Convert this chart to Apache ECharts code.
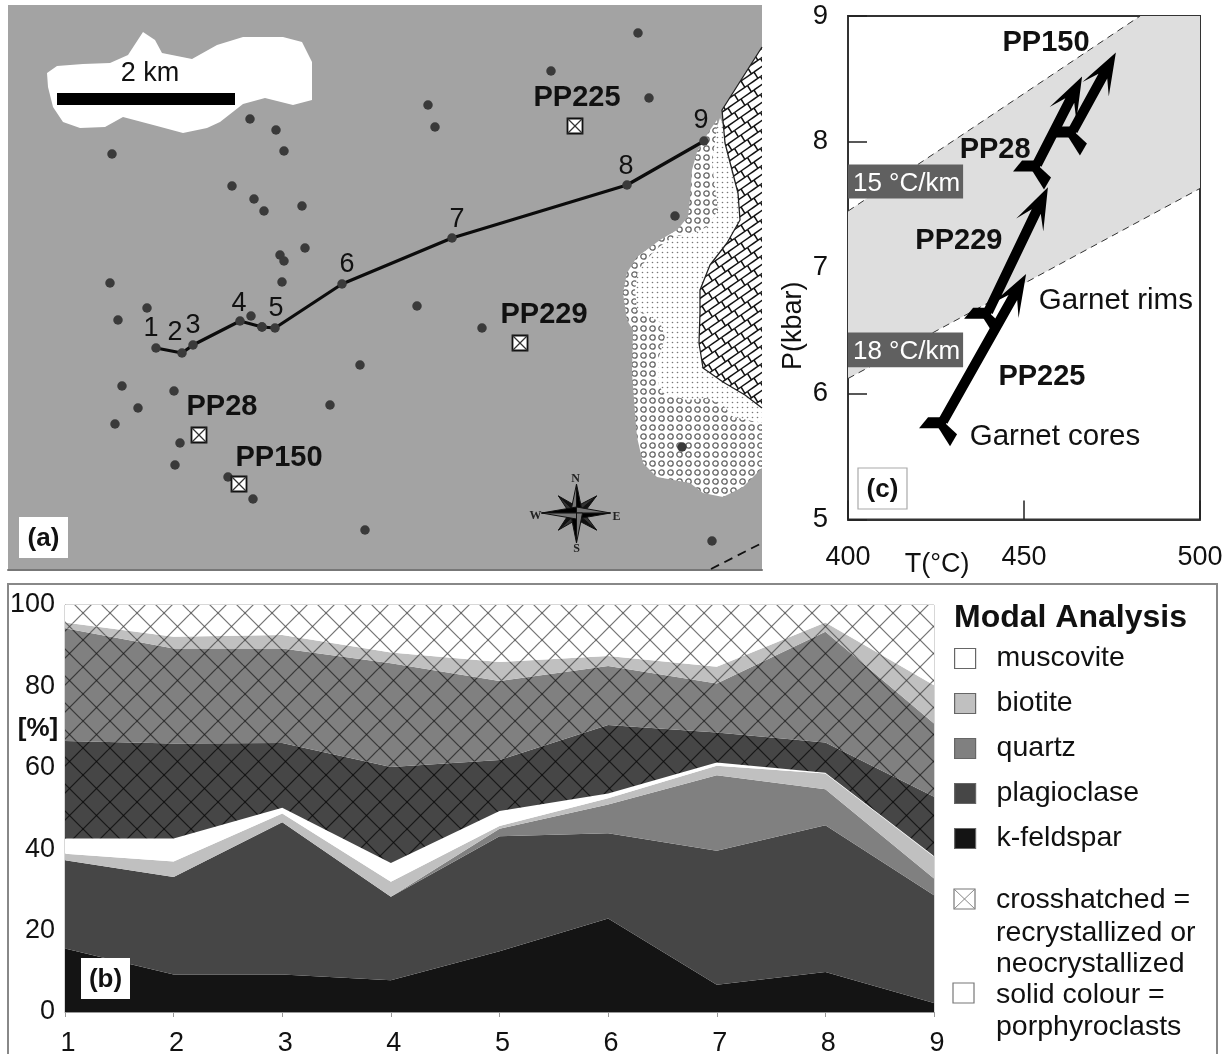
<!DOCTYPE html>
<html><head><meta charset="utf-8">
<style>html,body{margin:0;padding:0;background:#fff}#c{width:1226px;height:1054px}</style>
<script src="https://cdn.jsdelivr.net/npm/echarts@6/dist/echarts.min.js"></script>
</head><body><div id="c"></div>
<script>
// ---------- panel (b): modal analysis (%), stacked thickness at sections 1-9
const sections = ['1','2','3','4','5','6','7','8','9'];
const kFeldspar  = [15.6,9.2,9.2,7.8,14.9,23,6.7,9.8,2.2];
const plagSolid  = [21.7,24,37.4,20.5,28.3,20.9,32.9,36.1,26.5];
const quartzSolid= [0,0,0,0,1.8,7.1,18.6,8.8,4.1];
const biotSolid  = [1.6,3.8,2.2,3.7,0.7,1.5,2.3,3.9,5.3];
const muscSolid  = [3.7,5.6,1.4,4.6,3.7,1.2,0.8,0.2,0.2];
const plagRecr   = [24,23.4,15.9,23.6,12.5,16.8,7.4,7.4,14.6];
const quartzRecr = [27.7,23.3,23.2,25.5,19.4,14.5,12,27.2,18];
const biotRecr   = [1.4,2.9,3.3,2.6,4.7,2.5,4.1,2.3,9.4];
const muscRecr   = [4.3,7.8,7.4,11.7,14,12.5,15.2,4.3,19.7];
const percentTicks = [0,20,40,60,80,100];
const legendNames = ['muscovite','biotite','quartz','plagioclase','k-feldspar'];
const legendNotes = ['crosshatched =','recrystallized or','neocrystallized','solid colour =','porphyroclasts'];

// ---------- panel (a): map, in map units
const samplePoints = [[250,119],[276,130],[284,151],[112,154],[232,186],[254,199],[264,211],[302,206],[305,248],[280,255],[284,261],[282,282],[110,283],[147,308],[118,320],[262,327],[251,316],[360,365],[122,386],[174,391],[138,408],[330,405],[115,424],[180,443],[175,465],[228,477],[253,499],[365,530],[428,105],[435,127],[551,71],[638,33],[649,98],[417,306],[482,328],[675,216],[682,447],[712,541]];
const traversePoints = [[156,348],[182,353],[193,345],[240,321],[262,327],[275,328],[342,284],[452,238],[627,185],[704,141]];
const traverseLabels = ['1','2','3','4','5','6','7','8','9'];
const traverseLabelPos = [[151,327],[175,331],[193,324],[239,302],[276,307],[347,263],[457,218],[626,165],[701,119]];
const mapSamples = ['PP225','PP229','PP28','PP150'];
const mapSamplePos = [[575,126],[520,343],[199,435],[239,484]];
const mapSampleLabelPos = [[577,96],[544,313],[222,405],[279,456]];
const scaleBlob = [[47,73],[57,66],[83,64],[110,63],[128,55],[143,32],[155,40],[162,53],[192,59],[217,45],[243,37],[283,37],[302,42],[312,62],[312,100],[293,105],[265,98],[243,104],[220,122],[207,128],[183,133],[157,126],[123,117],[105,127],[80,128],[63,122],[53,107],[48,87]];
const scaleBar = [[57,93],[235,93],[235,105],[57,105]];
const circleUnit = [[717,120],[710,130],[697,152],[692,170],[690,200],[688,217],[677,230],[660,240],[637,257],[627,273],[623,293],[627,320],[633,330],[632,373],[635,413],[637,437],[643,463],[657,477],[690,483],[703,493],[723,497],[743,487],[762,468],[762,380],[725,200]];
const dotUnit = [[720,118],[717,127],[712,163],[715,187],[718,210],[707,227],[693,233],[673,237],[655,250],[638,270],[635,290],[637,310],[660,322],[665,337],[658,360],[658,383],[663,393],[687,400],[707,398],[723,405],[733,417],[762,423],[762,400],[745,385],[740,300],[745,215],[735,150]];
const scaleUnit = [[762,47],[722,110],[725,143],[732,170],[738,193],[740,220],[727,243],[710,265],[700,290],[700,313],[699,343],[703,368],[723,382],[745,395],[762,408]];
const faultLine = [[711,569],[762,543]];
const compassPos = [[576.5,513]];

// ---------- panel (c): P-T
const tempTicks = [400,450,500];
const pressTicks = [5,6,7,8,9];
const gradient15 = [[400,7.45],[483,9]];
const gradient18 = [[400,6.12],[500,7.63]];
const band = [[400,7.45],[483,9],[500,9],[500,7.63],[400,6.12]];
const arrowStarts = [[427,5.78],[439.8,6.65],[453.7,7.82],[463.9,8.09]];
const arrowTips = [[450.6,6.95],[456.8,7.64],[466.5,8.52],[476.1,8.71]];
const ptLabels = ['PP150','PP28','PP229','PP225','Garnet rims','Garnet cores','T(°C)','P(kbar)'];
const ptLabelPos = [[456.25,8.80],[441.8,7.95],[431.5,7.23],[455.1,6.15],[476.1,6.75],[458.8,5.67],[425.3,4.66],[384.4,6.54]];
const gradientTags = ['15 °C/km','18 °C/km'];
const gradientTagBoxes = [[400,7.82,432.7,7.55],[400,6.485,432.7,6.21]];

// ---------- helpers
const FF = '"Liberation Sans", Arial, sans-serif';
const INK = '#111';
function tile(w,h,draw){const c=document.createElement('canvas');c.width=w;c.height=h;const g=c.getContext('2d');draw(g,w,h);return c;}
function hatch(bg,ink){
  return {image:tile(27,27,(g,w,h)=>{
    g.fillStyle=bg;g.fillRect(0,0,w,h);g.strokeStyle=ink;g.lineWidth=1.15;
    for(let k=-3;k<=3;k++){
      g.beginPath();g.moveTo(0,17+k*27);g.lineTo(27,44+k*27);g.stroke();
      g.beginPath();g.moveTo(0,21+k*27);g.lineTo(27,-6+k*27);g.stroke();
    }
  }),repeat:'repeat'};
}
const dotsFill = {image:tile(5,5,(g)=>{g.fillStyle='#fff';g.fillRect(0,0,5,5);g.fillStyle='#777';g.beginPath();g.arc(2.5,2.5,.8,0,7);g.fill();}),repeat:'repeat'};
const ringsFill = {image:tile(9,9,(g)=>{g.fillStyle='#fff';g.fillRect(0,0,9,9);g.strokeStyle='#666';g.lineWidth=1.3;g.beginPath();g.arc(4.5,4.5,2.7,0,7);g.stroke();}),repeat:'repeat'};
const scalesFill = {image:tile(26,18,(g,w,h)=>{
  g.fillStyle='#fff';g.fillRect(0,0,w,h);g.strokeStyle='#111';g.lineWidth=1.5;
  for(let i=-4;i<=4;i++)for(let j=-4;j<=6;j++){
    const x=i*13+j*6.5,y=-i*9+j*4.5;
    g.beginPath();g.moveTo(x,y);g.lineTo(x+13,y-9);g.stroke();
    g.beginPath();g.moveTo(x,y);g.lineTo(x+3.9,y+6.3);g.stroke();
  }
}),repeat:'repeat'};

function polygonSeries(pts,fill,z,xi,yi){
  return {type:'custom',coordinateSystem:'cartesian2d',xAxisIndex:xi,yAxisIndex:yi,z,silent:true,
    data:pts,encode:{x:0,y:1},
    renderItem:(p,api)=>p.dataIndex===0?{type:'polygon',shape:{points:pts.map(q=>api.coord(q))},style:{fill}}:null};
}
function textSeries(texts,pos,styleOf,z,xi,yi){
  return {type:'custom',coordinateSystem:'cartesian2d',xAxisIndex:xi,yAxisIndex:yi,z,silent:true,
    data:pos,encode:{x:0,y:1},
    renderItem:(p,api)=>{const c=api.coord(pos[p.dataIndex]);const s=styleOf(p.dataIndex);
      return {type:'text',x:c[0],y:c[1]+(s.rotation?0:2),rotation:s.rotation||0,style:{text:texts[p.dataIndex],font:s.font,fill:s.fill||INK,align:'center',verticalAlign:'middle'}};}};
}
function stackSeries(name,data,color,fill,z){
  return {type:'line',name,data,stack:'modal',xAxisIndex:1,yAxisIndex:1,symbol:'none',silent:true,z,
    lineStyle:{width:0},itemStyle:{color},areaStyle:{color:fill||color,opacity:1}};
}
const C={k:'#141414',pl:'#464646',q:'#808080',b:'#c0c0c0',m:'#ffffff'};

function legendBox(x,y,fill,cross){
  const out=[{type:'rect',shape:{x,y,width:21,height:20},style:{fill,stroke:'#777',lineWidth:1.2},z:50}];
  if(cross){out.push({type:'polyline',shape:{points:[[x,y],[x+21,y+20]]},style:{stroke:'#888',lineWidth:1},z:51});
    out.push({type:'polyline',shape:{points:[[x+21,y],[x,y+20]]},style:{stroke:'#888',lineWidth:1},z:51});}
  return out;
}
function tag(x,y,w,h,text,border){
  return [{type:'rect',shape:{x,y,width:w,height:h},style:{fill:'#fff',stroke:border||null,lineWidth:border?1.2:0},z:60},
    {type:'text',x:x+w/2,y:y+h/2+1,style:{text,font:'bold 26px '+FF,fill:INK,align:'center',verticalAlign:'middle'},z:61}];
}
const noteY=[900,933,964,995,1027];

const option={
  animation:false,backgroundColor:'#fff',
  grid:[
    {left:8,top:5,width:754,height:565,outerBoundsMode:'none',show:true,backgroundColor:'#a3a3a3',borderWidth:0},
    {left:65,top:605,width:869,height:407,outerBoundsMode:'none',show:true,borderColor:'#b0b0b0',borderWidth:1,backgroundColor:'#fff'},
    {left:848,top:16,width:352,height:503.5,outerBoundsMode:'none',show:true,borderColor:'#333',borderWidth:2,backgroundColor:'#fff'}
  ],
  xAxis:[
    {gridIndex:0,type:'value',min:8,max:762,axisLabel:{show:false},axisTick:{show:false},splitLine:{show:false},axisLine:{onZero:false,lineStyle:{color:'#777',width:2}}},
    {gridIndex:1,type:'category',data:sections,boundaryGap:false,axisTick:{alignWithLabel:true,length:5,lineStyle:{color:'#999'}},
      axisLine:{lineStyle:{color:'#999'}},splitLine:{show:false},axisLabel:{color:INK,fontFamily:FF,fontSize:27,margin:18,padding:[0,0,0,6],showMaxLabel:true,showMinLabel:true,interval:0}},
    {gridIndex:2,type:'value',min:tempTicks[0],max:tempTicks[2],interval:50,splitLine:{show:false},axisTick:{inside:true,length:19,lineStyle:{color:'#222',width:1.5}},
      axisLine:{lineStyle:{color:'#333',width:2}},axisLabel:{color:INK,fontFamily:FF,fontSize:27,margin:25,showMaxLabel:true,showMinLabel:true}}
  ],
  yAxis:[
    {gridIndex:0,type:'value',min:5,max:570,inverse:true,show:false,splitLine:{show:false}},
    {gridIndex:1,type:'value',min:percentTicks[0],max:percentTicks[5],interval:20,splitLine:{show:false},axisTick:{length:7,lineStyle:{color:'#999'}},
      axisLine:{show:true,lineStyle:{color:'#999'}},axisLabel:{color:INK,fontFamily:FF,fontSize:27,margin:10,padding:[8,0,0,0],showMaxLabel:true,showMinLabel:true}},
    {gridIndex:2,type:'value',min:pressTicks[0],max:pressTicks[4],interval:1,splitLine:{show:false},axisTick:{inside:true,length:19,lineStyle:{color:'#222',width:1.5}},
      axisLine:{show:true,lineStyle:{color:'#333',width:2}},axisLabel:{color:INK,fontFamily:FF,fontSize:27.5,margin:20,padding:[7,0,0,0],showMaxLabel:true,showMinLabel:true}}
  ],
  legend:{left:954,top:644,padding:0,orient:'vertical',itemWidth:21,itemHeight:20,itemGap:16,selectedMode:false,
    textStyle:{color:INK,fontFamily:FF,fontSize:28.5,padding:[0,0,0,16]},
    data:legendNames.map((n,i)=>({name:n,icon:'rect',itemStyle:{color:[C.m,C.b,C.q,C.pl,C.k][i],borderColor:'#666',borderWidth:1.2}}))},
  graphic:{elements:[
    {type:'polyline',shape:{points:[[8,1060],[8,584],[1217,584],[1217,1060]]},style:{stroke:'#888',lineWidth:2,fill:null},z:40},
    {type:'text',x:954,y:618,style:{text:'Modal Analysis',font:'bold 32px '+FF,fill:INK,verticalAlign:'middle'},z:50},
    {type:'text',x:38,y:729,style:{text:'[%]',font:'bold 26px '+FF,fill:INK,align:'center',verticalAlign:'middle'},z:50},
    ...legendBox(954,889,'#fff',true),...legendBox(953,983,'#fff',false),
    ...legendNotes.map((t,i)=>({type:'text',x:996,y:noteY[i],style:{text:t,font:'28.5px '+FF,fill:INK,verticalAlign:'middle'},z:50})),
    ...tag(19,517,49,41,'(a)'),...tag(81,958,49,41,'(b)'),...tag(858,468,49,41,'(c)','#aaa')
  ]},
  series:[
    // --- map
    polygonSeries(circleUnit,ringsFill,2,0,0),
    polygonSeries(dotUnit,dotsFill,3,0,0),
    polygonSeries(scaleUnit,scalesFill,4,0,0),
    {type:'line',xAxisIndex:0,yAxisIndex:0,data:scaleUnit,symbol:'none',silent:true,z:4,lineStyle:{color:'#222',width:1.3}},
    polygonSeries(scaleBlob,'#fff',5,0,0),
    polygonSeries(scaleBar,'#000',6,0,0),
    {type:'line',xAxisIndex:0,yAxisIndex:0,data:faultLine,symbol:'none',silent:true,z:5,lineStyle:{color:'#111',width:1.8,type:[9,6]}},
    {type:'line',xAxisIndex:0,yAxisIndex:0,data:traversePoints,symbol:'none',silent:true,z:7,lineStyle:{color:'#0c0c0c',width:3.2}},
    {type:'scatter',xAxisIndex:0,yAxisIndex:0,data:samplePoints.concat(traversePoints),symbolSize:9.5,silent:true,z:8,itemStyle:{color:'#3a3a3a',opacity:1}},
    textSeries(['2 km'],[[150,72]],()=>({font:'27px '+FF}),9,0,0),
    textSeries(traverseLabels,traverseLabelPos,()=>({font:'27px '+FF}),9,0,0),
    textSeries(mapSamples,mapSampleLabelPos,()=>({font:'bold 29px '+FF}),9,0,0),
    {type:'custom',coordinateSystem:'cartesian2d',xAxisIndex:0,yAxisIndex:0,z:9,silent:true,data:mapSamplePos,encode:{x:0,y:1},
      renderItem:(p,api)=>{const c=api.coord(mapSamplePos[p.dataIndex]),r=7.5;return {type:'group',x:c[0],y:c[1],children:[
        {type:'rect',shape:{x:-r,y:-r,width:2*r,height:2*r},style:{fill:'#fff',stroke:'#111',lineWidth:1.8}},
        {type:'line',shape:{x1:-r,y1:-r,x2:r,y2:r},style:{stroke:'#333',lineWidth:1.2}},
        {type:'line',shape:{x1:r,y1:-r,x2:-r,y2:r},style:{stroke:'#333',lineWidth:1.2}}]};}},
    {type:'custom',coordinateSystem:'cartesian2d',xAxisIndex:0,yAxisIndex:0,z:9,silent:true,data:compassPos,encode:{x:0,y:1},
      renderItem:(p,api)=>{const c=api.coord(compassPos[0]);const kids=[];
        const L=[[0,-29],[34,0],[0,30],[-35,0]],D=[[20,-17],[20,17],[-18,17],[-18,-17]],w=6;
        const tri=(a,b,fill)=>({type:'polygon',shape:{points:[[0,0],a,b]},style:{fill,stroke:'#111',lineWidth:1}});
        D.forEach(t=>{const n=[-t[1]/Math.hypot(t[0],t[1])*w,t[0]/Math.hypot(t[0],t[1])*w];
          kids.push(tri(t,n,'#111'));kids.push(tri(t,[-n[0],-n[1]],'#333'));});
        L.forEach(t=>{const n=[-t[1]/Math.hypot(t[0],t[1])*w,t[0]/Math.hypot(t[0],t[1])*w];
          kids.push(tri(t,n,'#000'));kids.push(tri(t,[-n[0],-n[1]],'#777'));});
        [['N',-1,-34],['E',40,4],['S',0,36],['W',-41,3]].forEach(a=>kids.push({type:'text',x:a[1],y:a[2],style:{text:a[0],font:'bold 12px "Liberation Serif",serif',fill:'#222',align:'center',verticalAlign:'middle'}}));
        return {type:'group',x:c[0],y:c[1],children:kids};}},
    // --- stacked areas
    stackSeries('k-feldspar',kFeldspar,C.k,null,2),
    stackSeries('plagioclase',plagSolid,C.pl,null,2),
    stackSeries('quartz',quartzSolid,C.q,null,2),
    stackSeries('biotite',biotSolid,C.b,null,2),
    stackSeries('muscovite',muscSolid,C.m,null,2),
    stackSeries('plagioclase recrystallized',plagRecr,C.pl,hatch(C.pl,'rgba(10,10,10,.75)'),2),
    stackSeries('quartz recrystallized',quartzRecr,C.q,hatch(C.q,'rgba(25,25,25,.7)'),2),
    stackSeries('biotite recrystallized',biotRecr,C.b,hatch(C.b,'rgba(60,60,60,.7)'),2),
    stackSeries('muscovite recrystallized',muscRecr,C.m,hatch(C.m,'rgba(70,70,70,.75)'),2),
    // --- P-T
    polygonSeries(band,'#dedede',1,2,2),
    {type:'line',xAxisIndex:2,yAxisIndex:2,data:gradient15,symbol:'none',silent:true,z:2,lineStyle:{color:'#333',width:1,type:[7,5]}},
    {type:'line',xAxisIndex:2,yAxisIndex:2,data:gradient18,symbol:'none',silent:true,z:2,lineStyle:{color:'#333',width:1,type:[7,5]}},
    {type:'custom',coordinateSystem:'cartesian2d',xAxisIndex:2,yAxisIndex:2,z:3,silent:true,data:gradientTagBoxes,encode:{x:[0,2],y:[1,3]},
      renderItem:(p,api)=>{const b=gradientTagBoxes[p.dataIndex],a=api.coord([b[0],b[1]]),e=api.coord([b[2],b[3]]);
        return {type:'group',children:[{type:'rect',shape:{x:a[0],y:a[1],width:e[0]-a[0],height:e[1]-a[1]},style:{fill:'#606060'}},
          {type:'text',x:(a[0]+e[0])/2+1,y:(a[1]+e[1])/2+2,style:{text:gradientTags[p.dataIndex],font:'26px '+FF,fill:'#fff',align:'center',verticalAlign:'middle'}}]};}},
    {type:'custom',coordinateSystem:'cartesian2d',xAxisIndex:2,yAxisIndex:2,z:4,silent:true,data:arrowStarts,encode:{x:0,y:1},
      renderItem:(p,api)=>{const s=api.coord(arrowStarts[p.dataIndex]),t=api.coord(arrowTips[p.dataIndex]);
        const dx=t[0]-s[0],dy=t[1]-s[1],l=Math.hypot(dx,dy),u=[dx/l,dy/l],n=[-u[1],u[0]];
        const P=(b,o)=>[t[0]-u[0]*b+n[0]*o,t[1]-u[1]*b+n[1]*o];
        const hw=5;
        return {type:'group',children:[
          {type:'polygon',shape:{points:[t,P(42,15),P(27,hw),[s[0]+n[0]*hw,s[1]+n[1]*hw],[s[0]-n[0]*hw,s[1]-n[1]*hw],P(27,-hw),P(42,-15)]},style:{fill:'#000'}},
          {type:'polygon',shape:{points:[[s[0]-15,s[1]-4],[s[0]+3,s[1]-4],[s[0]+3,s[1]+7],[s[0]-24,s[1]+7]]},style:{fill:'#000'}},
          {type:'polygon',shape:{points:[[s[0],s[1]+0],[s[0]+14,s[1]+13],[s[0]+7,s[1]+25],[s[0]-5,s[1]+6]]},style:{fill:'#000'}}
        ]};}},
    textSeries(ptLabels,ptLabelPos,i=>i<4?{font:'bold 29px '+FF}:i<6?{font:'29.5px '+FF}:i===7?{font:'27px '+FF,rotation:Math.PI/2}:{font:'27px '+FF},5,2,2)
  ]
};
echarts.init(document.getElementById('c'),null,{renderer:'canvas'}).setOption(option);
</script></body></html>
